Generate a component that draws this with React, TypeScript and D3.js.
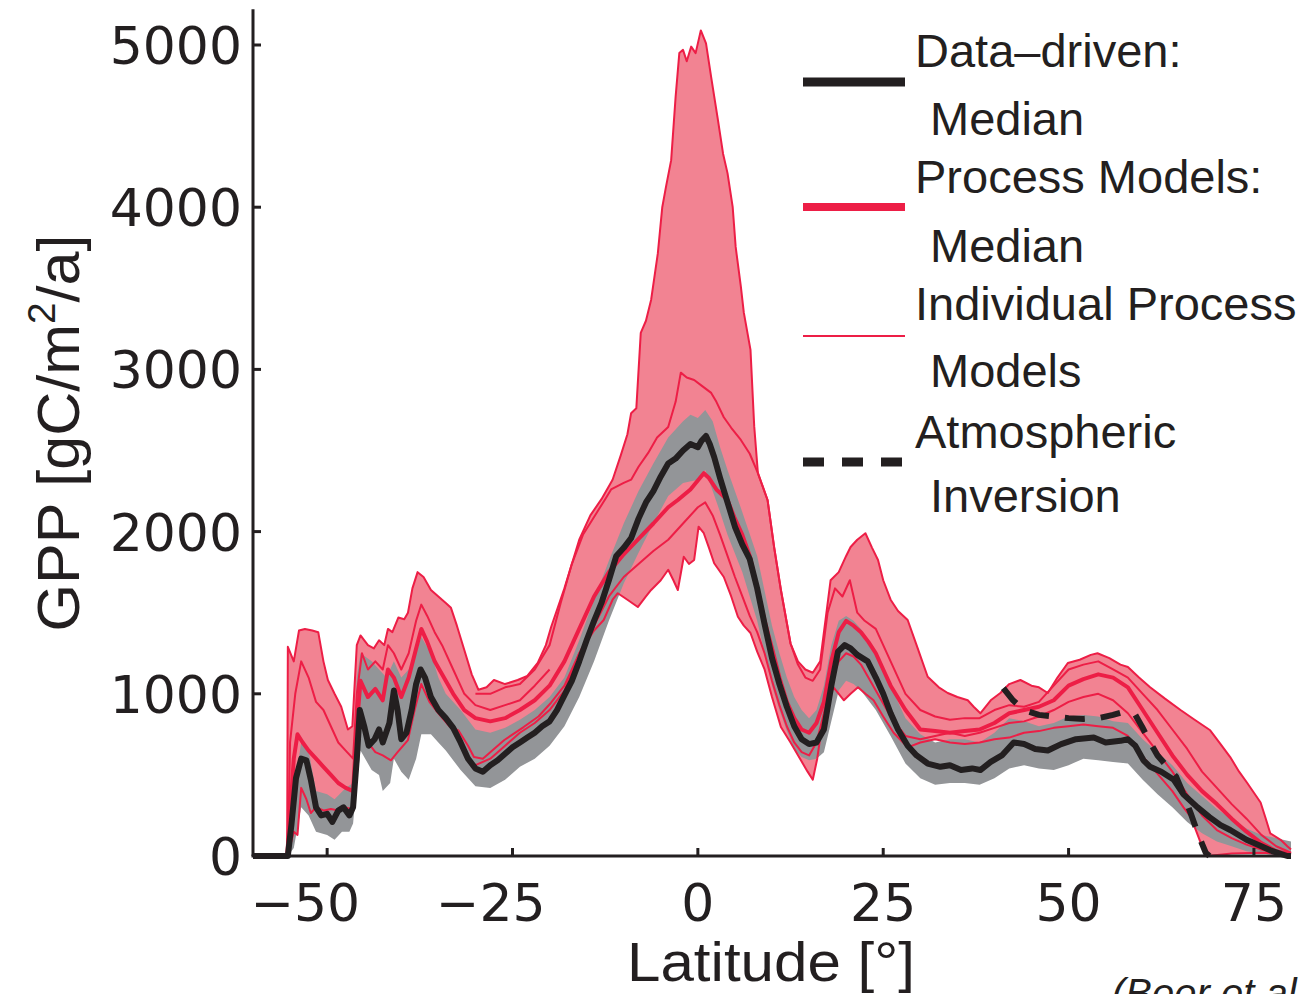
import React from 'react';
import * as d3 from 'd3';

type P = [number, number];

const latTicks = [-50, -25, 0, 25, 50, 75];
const gppTicks = [0, 1000, 2000, 3000, 4000, 5000];
const latDomain: P = [-60, 80];
const gppTop = 5220;

const legendItems = [
  { line1: 'Data\u2013driven:', line2: 'Median', kind: 'black' },
  { line1: 'Process Models:', line2: 'Median', kind: 'red' },
  { line1: 'Individual Process', line2: 'Models', kind: 'thin' },
  { line1: 'Atmospheric', line2: 'Inversion', kind: 'dash' },
];

// Process-model envelope (max / min of the individual models)
const envUpper: P[] = [[-60,0],[-55.4,0],[-55.3,1290],[-54.5,1200],[-53.8,1390],[-53,1400],[-52,1390],[-51.2,1380],[-50.5,1200],[-49.9,1085],[-49,1000],[-48.1,920],[-47.2,780],[-46.6,800],[-46,1300],[-45.5,1360],[-44.5,1300],[-43.7,1280],[-43,1330],[-42.3,1300],[-41.8,1400],[-41.2,1380],[-40.4,1470],[-39.6,1460],[-39.1,1500],[-38.5,1650],[-37.8,1750],[-37,1720],[-36,1640],[-35,1600],[-34,1560],[-33.3,1530],[-32.5,1420],[-31.5,1270],[-30.5,1120],[-29.6,1025],[-28.5,1040],[-27.5,1085],[-26,1060],[-24.3,1085],[-23,1110],[-21.6,1190],[-20.5,1300],[-19.8,1410],[-18,1650],[-16,1950],[-14.5,2100],[-13,2200],[-11.5,2320],[-10.4,2470],[-9.5,2600],[-9,2730],[-8.3,2760],[-7.7,3225],[-7,3300],[-6.3,3430],[-5.4,3715],[-4.8,4000],[-4.3,4125],[-3.6,4290],[-3,4680],[-2.5,4950],[-2,4970],[-1.5,4900],[-0.9,4990],[-0.3,4950],[0.4,5090],[1.1,5010],[1.8,4800],[2.7,4540],[3.4,4330],[4,4210],[4.7,4000],[5.1,3755],[5.8,3510],[6.2,3350],[7.1,3120],[7.6,2650],[8.1,2360],[9.4,2195],[10.3,1900],[11.2,1640],[12.5,1310],[13.5,1200],[14.5,1150],[15.5,1130],[16.5,1200],[17.2,1450],[17.9,1700],[19,1750],[20,1850],[20.6,1905],[21.5,1950],[22.6,1990],[23.5,1900],[24.3,1825],[25,1700],[26,1580],[27,1510],[28.3,1455],[29.5,1300],[31,1105],[32.5,1040],[33.7,1005],[35,980],[36.4,960],[37.2,920],[38.1,880],[39.5,960],[40.8,1005],[42,1060],[43.5,1085],[45,1050],[46,1040],[47.2,1005],[48.5,1100],[49.9,1190],[51.5,1210],[53,1240],[53.9,1250],[55.5,1220],[57,1180],[58,1165],[59.5,1100],[61,1040],[63,970],[65.1,900],[67,840],[69.1,775],[70.5,690],[71.8,610],[73,520],[74.1,450],[75,390],[75.9,330],[76.6,230],[77.2,140],[78.6,100],[79.5,60],[80,40]];

const envLower: P[] = [[-60,0],[-55.4,0],[-55,60],[-54.5,150],[-54,130],[-53.5,420],[-52.8,350],[-52.2,265],[-51.5,300],[-50.4,280],[-49.5,290],[-48.5,280],[-47.5,300],[-46.4,285],[-46,500],[-45.4,900],[-44.5,700],[-43.5,640],[-42.5,620],[-41.4,590],[-40.5,640],[-39.1,715],[-38.2,900],[-37.3,1060],[-36.2,950],[-35,880],[-33.5,800],[-32.3,775],[-31,680],[-30.2,610],[-29,600],[-28,640],[-26.1,715],[-23.5,795],[-21.5,860],[-19.8,945],[-18,1050],[-16,1250],[-14,1390],[-12.7,1455],[-11.5,1580],[-10.8,1620],[-9.5,1580],[-8.1,1535],[-7,1600],[-6.3,1640],[-5,1700],[-4,1765],[-3.3,1700],[-2.7,1640],[-1.9,1845],[-1.2,1800],[-0.5,1825],[0.1,2030],[0.8,1990],[1.5,1900],[2.2,1805],[3.5,1720],[4.5,1600],[5.4,1475],[6.2,1420],[7.1,1375],[8,1260],[9,1150],[10,980],[11.2,795],[12.5,700],[13.9,590],[14.8,520],[15.5,470],[16.1,600],[16.6,760],[17.5,950],[18.3,1040],[19.7,960],[20.6,1000],[21.6,1040],[22.6,1000],[23.7,960],[25,860],[26.4,760],[28.3,670],[30,700],[32,720],[34,700],[36,690],[38,700],[40,720],[42,730],[44,760],[46,770],[48,790],[50,800],[52,810],[54,800],[56,790],[58,740],[59.5,640],[61,560],[62.5,480],[64,400],[65.5,300],[66.5,240],[67.5,120],[68.2,35],[68.8,0],[72,15],[76,20],[80,10]];

// Individual process models (thin red)
const modelA: P[] = [[-30,1000],[-28,1000],[-26,1040],[-24,1060],[-22,1150],[-20,1300],[-18.5,1560],[-17,1800],[-15.5,1980],[-14,2090],[-12.5,2200],[-11.7,2260],[-10,2300],[-9,2320],[-8,2400],[-6.7,2485],[-5.5,2580],[-4,2645],[-3,2800],[-2.3,2980],[-1.5,2950],[-0.5,2935],[0.5,2900],[1.8,2855],[2.5,2800],[3.5,2705],[4.5,2640],[5.8,2565],[7,2480],[8.1,2360],[9.4,2195],[10.3,1900],[11.2,1640],[12.5,1310],[13.5,1180],[14.5,1100],[15.5,1080],[16.5,1150],[17.5,1500],[18.5,1650],[19.5,1600],[20.5,1700],[21.5,1500],[22.5,1450],[24,1400],[26,1200],[28,1000],[30,900],[32,860],[34,840],[36,850],[38,850],[40,900],[42,930],[44,920],[46,950],[48,1050],[50,1150],[52,1180],[54,1200],[56,1150],[58,1100],[60,1000],[62,900],[64,780],[66,660],[68,520],[70,420],[72,320],[74,230],[76,130],[78,60],[80,20]];

const modelB: P[] = [[-55.3,0],[-55,700],[-54.3,1000],[-53.5,1200],[-52.5,1100],[-51.5,950],[-50.5,900],[-49.5,800],[-48.5,700],[-47.5,650],[-46.5,600],[-46,1000],[-45.3,1250],[-44.5,1150],[-43.5,1200],[-42.5,1150],[-41.8,1300],[-41,1250],[-40,1150],[-39,1250],[-38,1450],[-37.3,1550],[-36.5,1480],[-35.5,1380],[-34.5,1300],[-33,1150],[-31.5,1000],[-30,930],[-28,900],[-26,930],[-24,960],[-22,1050],[-20,1150]];

const modelC: P[] = [[-30,560],[-28,600],[-26,680],[-24,760],[-22,820],[-20,900],[-18,1020],[-16,1250],[-14,1420],[-12,1600],[-10,1720],[-8,1800],[-6,1880],[-4,1950],[-2,2050],[0,2150],[1,2180],[2,2100],[3,1980],[4,1850],[5,1720],[6,1600],[7,1480],[8,1380],[9,1250],[10,1080],[11,930],[12,800],[13,700],[14,640],[15,620],[16,700],[17,880],[18,1080],[19,1200],[20,1250],[21,1230],[22,1180],[23,1100],[24,1020],[26,860],[28,740],[30,720],[32,740],[34,760],[36,740],[38,760],[40,790],[42,820],[44,830],[46,860],[48,900],[50,950],[52,980],[54,1000],[56,960],[58,880],[60,760],[62,640],[64,520],[66,380],[68,250],[70,160],[72,110],[74,70],[76,40],[78,15],[80,5]];

// Process-model median (thick red)
const procMedian: P[] = [[-55.4,0],[-55,250],[-54.5,600],[-54,750],[-53.3,700],[-52.5,650],[-51.5,600],[-50.5,550],[-49.5,500],[-48.5,450],[-47.5,420],[-46.5,400],[-46,800],[-45.5,1080],[-44.5,980],[-43.5,1030],[-42.5,960],[-41.8,1150],[-41,1100],[-40,980],[-39,1100],[-38,1280],[-37.3,1400],[-36.5,1320],[-35.5,1200],[-34.5,1120],[-33,1000],[-31.5,900],[-30,850],[-28,830],[-26,850],[-24,900],[-22,960],[-20,1050],[-18,1200],[-16,1400],[-14,1600],[-12,1750],[-10,1860],[-8.1,1950],[-6,2050],[-4,2150],[-2.7,2195],[-1,2260],[0.8,2360],[1.5,2330],[2.5,2260],[4,2195],[5,2080],[6,1980],[7,1850],[8,1650],[9,1450],[10,1280],[11,1100],[12,950],[13,850],[14,780],[15,760],[16,820],[17,950],[18,1200],[19,1380],[20,1450],[21,1420],[22,1380],[23,1320],[24,1250],[25,1150],[26,1050],[28,900],[30,780],[32,770],[34,760],[36,770],[38,780],[40,820],[42,880],[44,900],[46,920],[48,960],[50,1050],[52,1090],[54,1120],[56,1100],[58,1040],[60,900],[62,760],[64,620],[66,500],[68,400],[70,320],[72,230],[74,150],[76,80],[78,30],[80,10]];

// Data-driven median (black) and its uncertainty band (grey)
const dataMedian: P[] = [[-60,0],[-55.3,0],[-54.8,200],[-54.2,480],[-53.5,600],[-52.8,590],[-52.2,470],[-51.5,300],[-50.8,250],[-50,260],[-49.3,210],[-48.5,280],[-47.8,300],[-47,250],[-46.5,300],[-46,600],[-45.6,900],[-45,800],[-44.4,680],[-43.6,720],[-43,780],[-42.5,700],[-41.6,820],[-41,1020],[-40.5,900],[-40,720],[-39.3,760],[-38.6,900],[-38,1060],[-37.4,1150],[-36.8,1100],[-36,980],[-35,900],[-34,850],[-33,790],[-32,700],[-31,600],[-30,540],[-29,520],[-28,560],[-27,590],[-26,630],[-25,670],[-24,700],[-23,730],[-22,760],[-21,800],[-20,830],[-19,900],[-18,990],[-17,1080],[-16,1200],[-15,1330],[-14,1450],[-13,1560],[-12,1700],[-11,1850],[-10,1900],[-9,1960],[-8,2080],[-7,2180],[-6,2250],[-5,2340],[-4,2420],[-3,2450],[-2,2500],[-1,2540],[0,2520],[0.5,2560],[1.1,2590],[1.6,2540],[2.2,2460],[3,2330],[4,2180],[5,2030],[6,1920],[7,1830],[8,1650],[9,1430],[10,1220],[11,1060],[12,920],[13,800],[14,720],[15,690],[16,700],[17,780],[18,1050],[18.9,1260],[19.8,1300],[20.6,1280],[21.5,1240],[22.9,1200],[24,1100],[25,1000],[26,880],[27,780],[28.3,680],[29.5,620],[31,570],[32.7,550],[34,560],[35.5,530],[37,540],[38.1,530],[39.5,580],[41,620],[42.6,700],[44,690],[45.5,660],[47.2,650],[49,690],[51,720],[53.4,730],[55,700],[57,710],[58,720],[59,680],[60.1,590],[61,550],[62.5,520],[64.2,470],[65.5,380],[67.4,300],[69,240],[70.5,190],[71.8,160],[74,100],[76,60],[77.2,35],[78.5,15],[79.5,0],[80,0]];

const dataHigh: P[] = [[-55.3,0],[-54.5,400],[-53.5,700],[-52.5,650],[-51.5,400],[-50,380],[-49,350],[-47.5,420],[-46.5,450],[-46,1100],[-45.5,1250],[-44,1200],[-43,1150],[-42,1100],[-41,1200],[-40,1100],[-39,1150],[-38,1250],[-37.3,1350],[-36,1250],[-35,1100],[-34,1000],[-32,900],[-30,780],[-28,760],[-26,790],[-24,840],[-22,900],[-20,980],[-18,1100],[-16,1330],[-14,1580],[-12,1820],[-10,2050],[-8,2250],[-6,2420],[-4,2580],[-2,2680],[-1,2720],[0,2700],[1,2750],[2,2680],[3,2520],[4,2380],[6,2120],[8,1850],[10,1420],[11,1250],[12,1100],[13,980],[14,900],[15,850],[16,900],[17,1050],[18,1300],[19,1450],[20,1480],[21,1450],[22,1400],[23,1330],[24,1250],[26,1050],[28,850],[30,750],[32,700],[34,720],[36,720],[38,700],[40,760],[42,850],[44,830],[46,800],[48,820],[50,860],[52,870],[54,860],[56,830],[58,820],[60,720],[62,640],[64,560],[66,450],[68,370],[70,290],[72,230],[74,170],[76,130],[78,110],[80,90]];

const dataLow: P[] = [[-55.3,0],[-54.5,50],[-53.5,300],[-52.5,250],[-51.5,150],[-50,130],[-49,100],[-48,150],[-47,150],[-46.5,200],[-46,450],[-45.5,650],[-44,530],[-43,500],[-42.5,400],[-41.5,450],[-41,600],[-40,520],[-39,470],[-38,600],[-37.3,750],[-36,750],[-35,700],[-34,650],[-32,530],[-30,430],[-28,420],[-26,470],[-24,550],[-22,600],[-20,680],[-18,800],[-16,980],[-14,1200],[-12,1450],[-10,1680],[-8,1870],[-6,2050],[-4,2220],[-2,2300],[0,2320],[1,2380],[2,2250],[3,2120],[4,1980],[6,1750],[8,1450],[10,1050],[11,900],[12,770],[13,660],[14,610],[15,590],[16,600],[17,640],[18,830],[19,1020],[20,1080],[21,1060],[22,1020],[24,900],[26,740],[28,570],[30,480],[32,440],[34,450],[36,450],[38,440],[40,480],[42,540],[44,560],[46,540],[48,530],[50,560],[52,600],[54,590],[56,580],[58,570],[60,470],[62,380],[64,300],[66,210],[68,140],[70,90],[72,60],[74,30],[76,15],[78,5],[80,0]];

// Atmospheric inversion (dashed black)
const inversion: P[] = [[41.2,1035],[42.5,960],[44,900],[46,870],[48,860],[50,850],[52,845],[54,850],[56,870],[57.5,890],[59,870],[60,790],[61,700],[62,620],[63.5,540],[64.5,490],[65.5,380],[66.5,260],[67.5,130],[68.5,20],[69,0]];

const BLACK = '#231f20';
const RED = '#ed1e46';
const PINK = '#f28392';
const GREY = '#939598';

export default function App() {
  const W = 1303, H = 994;
  const x = d3.scaleLinear().domain(latDomain).range([253, 1291]);
  const y = d3.scaleLinear().domain([0, 5000]).range([856, 45]);
  const line = d3.line<P>().x(d => x(d[0])).y(d => y(d[1]));
  const band = (up: P[], lo: P[]) => (line([...up, ...lo.slice().reverse()]) || '') + 'Z';

  const tickFont = '"DejaVu Sans", sans-serif';
  const textFont = '"Liberation Sans", Arial, sans-serif';
  const digitW = 0.636 * 52;

  return (
    <svg width={W} height={H} style={{ position: 'absolute', left: 0, top: 0, background: '#fff' }}>
      <rect x={0} y={0} width={W} height={H} fill="#fff" />
      {/* envelope */}
      <path d={band(envUpper, envLower)} fill={PINK} stroke="none" />
      {/* data band */}
      <path d={band(dataHigh, dataLow)} fill={GREY} stroke="none" />
      {/* individual models */}
      {[envUpper, envLower, modelA, modelB, modelC].map((m, i) => (
        <path key={i} d={line(m) || ''} fill="none" stroke={RED} strokeWidth={2} strokeLinejoin="round" />
      ))}
      <path d={line(procMedian) || ''} fill="none" stroke={RED} strokeWidth={4} strokeLinejoin="round" />
      <path d={line(dataMedian) || ''} fill="none" stroke={BLACK} strokeWidth={6} strokeLinejoin="round" />
      <path d={line(inversion) || ''} fill="none" stroke={BLACK} strokeWidth={6} strokeDasharray="20,16" />

      {/* axes */}
      <line x1={x(latDomain[0])} x2={x(latDomain[0])} y1={y(gppTop)} y2={y(0)} stroke={BLACK} strokeWidth={3} />
      <line x1={x(latDomain[0]) - 1.5} x2={x(latDomain[1])} y1={y(0)} y2={y(0)} stroke={BLACK} strokeWidth={3} />
      {gppTicks.map(t => (
        <g key={t}>
          <line x1={x(latDomain[0])} x2={x(latDomain[0]) + 8} y1={y(t)} y2={y(t)} stroke={BLACK} strokeWidth={3} />
          <text x={242} y={y(t) + 19} textAnchor="end" fontFamily={tickFont} fontSize={52} fill={BLACK}>{t}</text>
        </g>
      ))}
      {latTicks.map(t => {
        const digits = String(Math.abs(t));
        const half = (digits.length * digitW) / 2;
        return (
          <g key={t}>
            <line x1={x(t)} x2={x(t)} y1={y(0)} y2={y(0) - 8} stroke={BLACK} strokeWidth={3} />
            <text x={x(t) + half} y={921} textAnchor="end" fontFamily={tickFont} fontSize={52} fill={BLACK}>
              {(t < 0 ? '\u2212' : '') + digits}
            </text>
          </g>
        );
      })}
      <text x={771} y={981} textAnchor="middle" fontFamily={textFont} fontSize={56} fill={BLACK} textLength={288} lengthAdjust="spacingAndGlyphs">Latitude [°]</text>
      <text transform="translate(79,433) rotate(-90)" textAnchor="middle" fontFamily={textFont} fontSize={60} fill={BLACK} textLength={397} lengthAdjust="spacingAndGlyphs">
        GPP [gC/m<tspan fontSize={38} dy={-24}>2</tspan><tspan dy={24}>/a]</tspan>
      </text>

      {/* legend */}
      {legendItems.map((it, i) => {
        const ly = [82, 207, 336, 462][i];
        const b1 = [67, 193, 320, 448][i];
        const b2 = [135, 262, 387, 512][i];
        let sym;
        if (it.kind === 'black') sym = <line x1={803} x2={905} y1={ly} y2={ly} stroke={BLACK} strokeWidth={9} />;
        else if (it.kind === 'red') sym = <line x1={803} x2={905} y1={ly} y2={ly} stroke={RED} strokeWidth={8} />;
        else if (it.kind === 'thin') sym = <line x1={803} x2={905} y1={ly} y2={ly} stroke={RED} strokeWidth={2} />;
        else sym = <line x1={803} x2={905} y1={ly} y2={ly} stroke={BLACK} strokeWidth={9} strokeDasharray="21,18" />;
        return (
          <g key={i}>
            {sym}
            <text x={915} y={b1} fontFamily={textFont} fontSize={47} fill={BLACK}>{it.line1}</text>
            <text x={930} y={b2} fontFamily={textFont} fontSize={47} fill={BLACK}>{it.line2}</text>
          </g>
        );
      })}
      <text x={1112} y={1007} fontFamily={textFont} fontSize={40} fontStyle="italic" fill={BLACK}>(Beer et al., 2010)</text>
    </svg>
  );
}
